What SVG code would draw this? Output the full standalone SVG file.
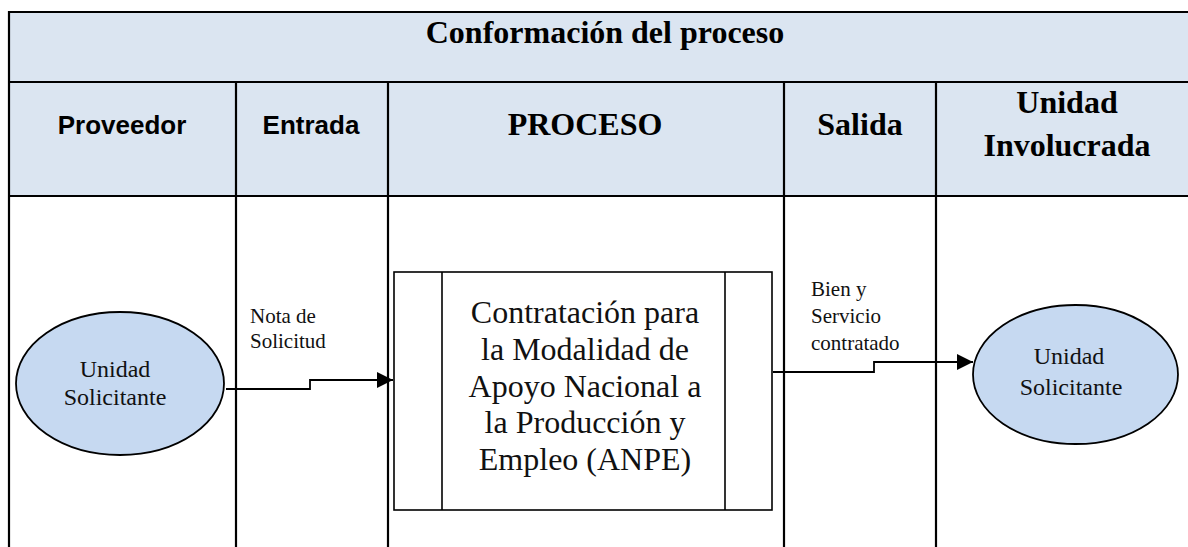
<svg xmlns="http://www.w3.org/2000/svg" width="1188" height="547" viewBox="0 0 1188 547">
<style>
.hdr{fill:#DBE5F1}
.grid{stroke:#000;stroke-width:2.2;fill:none}
.tb{font-family:"Liberation Serif","Times New Roman",serif;font-weight:bold;font-size:32px;fill:#000;text-anchor:middle}
.ab{font-family:"Liberation Sans",Arial,sans-serif;font-weight:bold;font-size:26px;fill:#000;text-anchor:middle}
.ell{fill:#C6D9F1;stroke:#000;stroke-width:1.8}
.et{font-family:"Liberation Serif","Times New Roman",serif;font-size:24px;fill:#111;text-anchor:middle}
.lbl{font-family:"Liberation Serif","Times New Roman",serif;font-size:21px;fill:#111}
.box{fill:#fff;stroke:#000;stroke-width:1.6}
.pt{font-family:"Liberation Serif","Times New Roman",serif;font-size:32px;fill:#111;text-anchor:middle}
.con{stroke:#000;stroke-width:1.8;fill:none}
</style>
<defs>
<marker id="arr" markerUnits="userSpaceOnUse" markerWidth="16" markerHeight="16" refX="16" refY="8" orient="auto">
<path d="M0,0 L16,8 L0,16 z" fill="#000"/>
</marker>
</defs>
<rect width="1188" height="547" fill="#fff"/>
<g id="table">
<rect class="hdr" x="9" y="12" width="1190" height="184"/>
<line class="grid" x1="9" y1="12" x2="1188" y2="12"/>
<line class="grid" x1="9" y1="82" x2="1188" y2="82"/>
<line class="grid" x1="9" y1="196" x2="1188" y2="196"/>
<line class="grid" x1="9" y1="11" x2="9" y2="547"/>
<line class="grid" x1="236" y1="82" x2="236" y2="547"/>
<line class="grid" x1="388" y1="82" x2="388" y2="547"/>
<line class="grid" x1="784" y1="82" x2="784" y2="547"/>
<line class="grid" x1="936" y1="82" x2="936" y2="547"/>
<text class="tb" x="605" y="43">Conformación del proceso</text>
<text class="ab" x="122" y="134">Proveedor</text>
<text class="ab" x="311" y="134">Entrada</text>
<text class="tb" x="585" y="135">PROCESO</text>
<text class="tb" x="860" y="135">Salida</text>
<text class="tb" x="1067" y="113">Unidad</text>
<text class="tb" x="1067" y="156">Involucrada</text>
</g>
<g id="connectors">
<path class="con" d="M226,389 H310 V380 H393" marker-end="url(#arr)"/>
<path class="con" d="M773,372 H874 V362 H973" marker-end="url(#arr)"/>
<text class="lbl" x="250" y="323">Nota de</text>
<text class="lbl" x="250" y="348">Solicitud</text>
<text class="lbl" x="811" y="296">Bien y</text>
<text class="lbl" x="811" y="323">Servicio</text>
<text class="lbl" x="811" y="350">contratado</text>
</g>
<g id="proveedor">
<ellipse class="ell" cx="120" cy="383.5" rx="104" ry="71.5"/>
<text class="et" x="115" y="377">Unidad</text>
<text class="et" x="115" y="405">Solicitante</text>
</g>
<g id="proceso">
<rect class="box" x="394" y="272" width="378" height="238"/>
<line class="box" x1="442" y1="272" x2="442" y2="510"/>
<line class="box" x1="725" y1="272" x2="725" y2="510"/>
<text class="pt" x="585" y="323">Contratación para</text>
<text class="pt" x="585" y="360">la Modalidad de</text>
<text class="pt" x="585" y="397">Apoyo Nacional a</text>
<text class="pt" x="585" y="433">la Producción y</text>
<text class="pt" x="585" y="470">Empleo (ANPE)</text>
</g>
<g id="unidad">
<ellipse class="ell" cx="1075.5" cy="374.5" rx="102.5" ry="69.5"/>
<text class="et" x="1069" y="364">Unidad</text>
<text class="et" x="1071" y="395">Solicitante</text>
</g>
</svg>
